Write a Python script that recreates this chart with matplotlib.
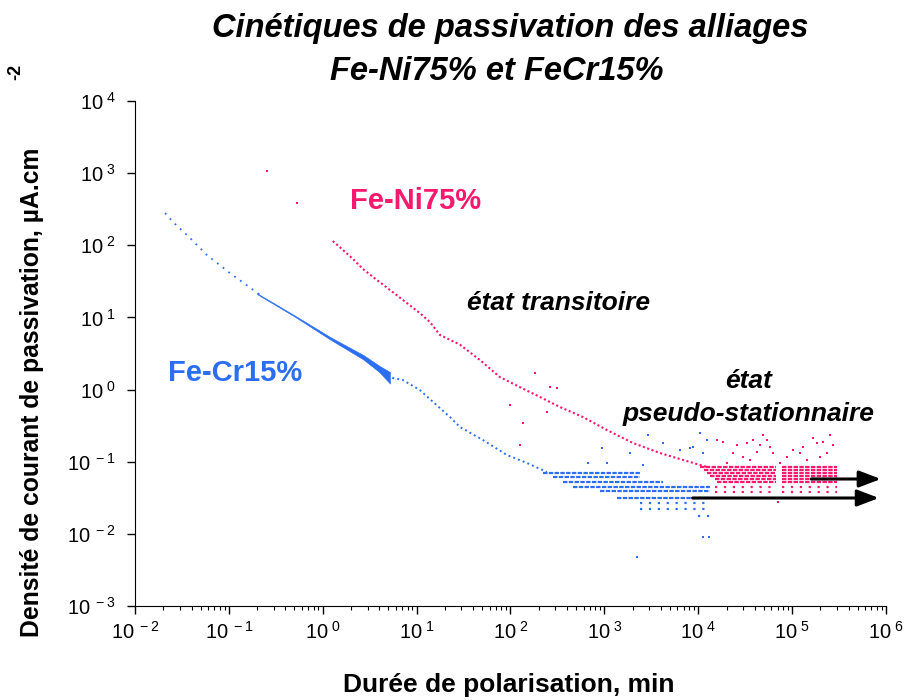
import matplotlib
matplotlib.use('Agg')
import matplotlib.pyplot as plt
import numpy as np
from matplotlib.ticker import FuncFormatter, LogLocator, NullFormatter

plt.rcParams['font.family'] = ['Liberation Sans', 'DejaVu Sans']
plt.rcParams['mathtext.fontset'] = 'custom'
plt.rcParams['mathtext.rm'] = 'Liberation Sans'
plt.rcParams['mathtext.it'] = 'Liberation Sans:italic'
plt.rcParams['mathtext.bf'] = 'Liberation Sans:bold'
plt.rcParams['mathtext.default'] = 'regular'

BLUE = '#2B6EF2'
PINK = '#F8186E'

# ---- Fe-Cr15% (blue) ----
cr_time = [0.0209, 0.0254, 0.0386, 0.0585, 0.103, 0.231]
cr_curr = [280, 210, 126, 73, 41, 19.2]
cr_band_time = [0.2, 0.5, 1.2, 2.7, 4.0, 5.2]
cr_band_hi = [21.6, 10.7, 5.35, 3.02, 2.14, 1.75]
cr_band_lo = [21.0, 10.3, 4.95, 2.62, 1.75, 1.21]
cr_tail_time = [5.5, 7.1, 10.8, 22.6, 28.9, 50.8, 91.5, 150, 244]
cr_tail_curr = [1.45, 1.36, 0.986, 0.417, 0.303, 0.2, 0.124, 0.096, 0.072]
cr_scat_time = [2900, 10400, 8150, 11100, 1870, 1060, 667, 940, 4200, 6370, 2570,
                12400, 8770, 2220, 11200, 12900]
cr_scat_curr = [0.2345, 0.25, 0.155, 0.132, 0.132, 0.096, 0.096, 0.155, 0.1816, 0.145,
                0.090, 0.200, 0.160, 0.00477, 0.00904, 0.00904]
# quantised rows of the pseudo-stationary regime
cr_row_level = [0.0697, 0.0614, 0.0523, 0.0446, 0.0393, 0.0314, 0.0268, 0.0221, 0.0177]
cr_row_start = [221, 283, 361, 462, 895, 1360, 2390, 2390, 9900]
cr_row_end = [2390, 2390, 4200, 13300, 13300, 13300, 13300, 13300, 13300]
cr_row_dense = [1, 1, 1, 1, 1, 1, 0, 0, 0]

# ---- Fe-Ni75% (pink) ----
ni_out_time = [0.255, 0.53]
ni_out_curr = [1071, 386]
ni_time = [1.28, 1.6, 2.1, 2.68, 3.78, 5.2, 7.9, 10.8, 13.9, 17.7, 28.9, 47.2, 77, 126,
           206, 336, 590, 1064, 2010, 3900, 6850, 12400]
ni_curr = [114.6, 88.7, 64.5, 46.9, 33, 24, 15.8, 11.5, 8.6, 5.71, 4.2, 2.57, 1.49, 1.08,
           0.789, 0.573, 0.417, 0.275, 0.182, 0.132, 0.106, 0.0845]
ni_scat_time = [98.6, 244, 135.6, 126, 263, 312, 182,
                18300, 25800, 33000, 38200, 45300, 48800, 53800, 58000, 42100, 29900,
                23400, 35500, 62300, 87900, 102000, 121000, 130000, 166000, 183000,
                212000, 252000, 272000, 234000, 197000, 144000, 74000, 20200, 15800, 70500]
ni_scat_curr = [0.611, 0.489, 0.344, 0.17, 1.08, 1.05, 1.70,
                0.1875, 0.1706, 0.1816, 0.200, 0.171, 0.2345, 0.200, 0.160, 0.136, 0.116,
                0.132, 0.1057, 0.132, 0.116, 0.145, 0.132, 0.160, 0.213, 0.1816,
                0.1875, 0.2345, 0.171, 0.132, 0.116, 0.1057, 0.096, 0.096, 0.200, 0.0276]
ni_row_level = [0.0845, 0.0768, 0.0697, 0.0634, 0.0576, 0.0523, 0.0446, 0.0386]
ni_row_start = [10400, 11500, 12400, 13500, 15000, 16000, 15000, 15000]
ni_row_gap = [67000, 67000, 67000, 67000, 67000, 67000, 67000, 67000]
ni_row_restart = [78000, 78000, 78000, 78000, 78000, 78000, 78000, 78000]
ni_row_end = [300000, 300000, 300000, 300000, 300000, 300000, 300000, 300000]
ni_row_dense = [1, 1, 1, 1, 1, 1, 0, 0]

# arrows marking the stationary currents
arrow_start = [160000, 8700]
arrow_end = [880000, 840000]
arrow_level = [0.0576, 0.0314]

fig = plt.figure(figsize=(9.12, 7.0), dpi=100)
ax = fig.add_axes([135 / 912, 94 / 700, 751 / 912, 505 / 700])
ax.set_xscale('log')
ax.set_yscale('log')
ax.set_xlim(1e-2, 1e6)
ax.set_ylim(1e-3, 1e4)

# blue
ax.plot(cr_time, cr_curr, ls=(0, (1, 3)), lw=1.3, color=BLUE)
ax.fill_between(cr_band_time, cr_band_lo, cr_band_hi, color=BLUE, lw=0.4)
ax.plot(cr_tail_time, cr_tail_curr, ls=(0, (1, 1.6)), lw=1.4, color=BLUE)
for lev, x0, x1, d in zip(cr_row_level, cr_row_start, cr_row_end, cr_row_dense):
    ax.hlines(lev, x0, x1, colors=BLUE, lw=1.6, linestyles=(0, (2, 0.6)) if d else (0, (1, 3)))
ax.plot(cr_scat_time, cr_scat_curr, ls='none', marker='s', ms=1.6, mew=0, color=BLUE)

# pink
ax.plot(ni_out_time, ni_out_curr, ls='none', marker='s', ms=2, mew=0, color=PINK)
ax.plot(ni_time, ni_curr, ls=(0, (1, 1.2)), lw=1.5, color=PINK)
for lev, x0, xg, xr, x1, d in zip(ni_row_level, ni_row_start, ni_row_gap, ni_row_restart,
                                  ni_row_end, ni_row_dense):
    ls = (0, (2, 0.6)) if d else (0, (1, 3))
    ax.hlines(lev, x0, xg, colors=PINK, lw=1.6, linestyles=ls)
    ax.hlines(lev, xr, x1, colors=PINK, lw=1.6, linestyles=ls)
ax.plot(ni_scat_time, ni_scat_curr, ls='none', marker='s', ms=1.8, mew=0, color=PINK)

for x0, x1, lev in zip(arrow_start, arrow_end, arrow_level):
    ax.annotate('', xy=(x1, lev), xytext=(x0, lev),
                arrowprops=dict(arrowstyle='-|>,head_length=1.1,head_width=0.42',
                                color='black', lw=2.2, mutation_scale=12,
                                shrinkA=0, shrinkB=0))

# labels inside the plot
ax.text(1.95, 411, 'Fe-Ni75%', color=PINK, fontsize=21, fontweight='bold', ha='left', va='center')
ax.text(0.0224, 1.70, 'Fe-Cr15%', color=BLUE, fontsize=21, fontweight='bold', ha='left', va='center')
ax.text(34.4, 15.8, 'état transitoire', fontsize=19, fontweight='bold', fontstyle='italic',
        ha='left', va='center')
ax.text(34600, 0.77, 'état\npseudo-stationnaire', fontsize=19, fontweight='bold',
        fontstyle='italic', ha='center', va='center', linespacing=1.45)

# axes styling
for s in ['top', 'right']:
    ax.spines[s].set_visible(False)
ax.xaxis.set_major_locator(LogLocator(base=10, numticks=20))
ax.xaxis.set_minor_locator(LogLocator(base=10, subs=np.arange(2, 10), numticks=20))
ax.yaxis.set_major_locator(LogLocator(base=10, numticks=20))
ax.yaxis.set_minor_locator(LogLocator(base=10, subs=[], numticks=20))


def fmt(v, pos):
    e = int(round(np.log10(v)))
    return r'$\mathregular{10^{\ %d}}$' % e


ax.xaxis.set_major_formatter(FuncFormatter(fmt))
ax.yaxis.set_major_formatter(FuncFormatter(fmt))
ax.xaxis.set_minor_formatter(NullFormatter())
ax.tick_params(axis='both', which='major', labelsize=14.5, direction='out', length=6, width=1)
ax.tick_params(axis='x', which='minor', direction='out', length=3, width=0.8)
ax.tick_params(axis='y', which='major', pad=8)
ax.tick_params(axis='x', which='major', pad=5)

fig.text(510 / 912, 1 - 28 / 700, 'Cinétiques de passivation des alliages',
         fontsize=23.5, fontweight='bold', fontstyle='italic', ha='center', va='center')
fig.text(497 / 912, 1 - 72 / 700, 'Fe-Ni75% et FeCr15%',
         fontsize=23.5, fontweight='bold', fontstyle='italic', ha='center', va='center')
fig.text(509 / 912, 1 - 685 / 700, 'Durée de polarisation, min', fontsize=19,
         fontweight='bold', ha='center', va='center')
fig.text(32 / 912, 1 - 392 / 700, 'Densité de courant de passivation, µA.cm', fontsize=17.8,
         fontweight='bold', rotation=90, ha='center', va='center')
fig.text(16 / 912, 1 - 72 / 700, '-2', fontsize=13, fontweight='bold', rotation=90,
         ha='center', va='center')

fig.savefig('out.png', dpi=100)
